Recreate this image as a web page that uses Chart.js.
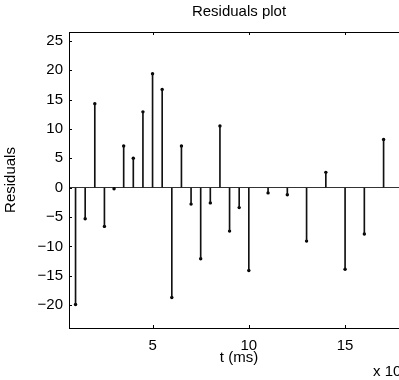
<!DOCTYPE html>
<html>
<head>
<meta charset="utf-8">
<title>Residuals plot</title>
<script src="https://cdn.jsdelivr.net/npm/chart.js@4.4.1/dist/chart.umd.min.js"></script>
<style>
  html, body { margin: 0; padding: 0; background: #fff; overflow: hidden; }
  canvas { display: block; }
</style>
</head>
<body>
<canvas id="residualsChart" width="420" height="380"></canvas>
<script>
// sample times (x 10^? ms) and the residual at each one
const tValues = [1, 1.5, 2, 2.5, 3, 3.5, 4, 4.5, 5, 5.5, 6, 6.5, 7, 7.5, 8, 8.5, 9, 9.5, 10,
                 11, 12, 13, 14, 15, 16, 17];
const residuals = [-19.9, -5.3, 14.3, -6.6, -0.2, 7.1, 5.0, 12.9, 19.4, 16.7, -18.7, 7.1, -2.8,
                   -12.1, -2.6, 10.5, -7.4, -3.4, -14.1, -0.9, -1.2, -9.1, 2.6, -13.9, -7.9, 8.2];
const xTicks = [5, 10, 15];
const yTicks = [-20, -15, -10, -5, 0, 5, 10, 15, 20, 25];
const xRange = [0.66, 18.32];
const yRange = [-23.9, 26.5];

const points = tValues.map((t, i) => ({ x: t, y: residuals[i] }));

Chart.defaults.font.family = '"Liberation Sans", Arial, Helvetica, sans-serif';
Chart.defaults.font.size = 15;
Chart.defaults.color = '#000';

// matlab look: box round the axes, ticks pointing in, exponent under the x axis
const matlabAxes = {
    id: 'matlabAxes',
    afterDraw(chart) {
        const ctx = chart.ctx;
        const area = chart.chartArea;
        const xs = chart.scales.x;
        const ys = chart.scales.y;
        ctx.save();
        ctx.strokeStyle = '#000';
        ctx.lineWidth = 1;
        ctx.beginPath();
        xTicks.forEach(v => {
            const px = Math.round(xs.getPixelForValue(v)) + 0.5;
            ctx.moveTo(px, area.bottom);
            ctx.lineTo(px, area.bottom - 3);
            ctx.moveTo(px, area.top);
            ctx.lineTo(px, area.top + 3);
        });
        yTicks.forEach(v => {
            const py = Math.round(ys.getPixelForValue(v)) + 0.5;
            ctx.moveTo(area.left, py);
            ctx.lineTo(area.left + 3, py);
            ctx.moveTo(area.right, py);
            ctx.lineTo(area.right - 3, py);
        });
        ctx.stroke();
        ctx.strokeRect(Math.round(area.left) + 0.5, Math.round(area.top) + 0.5,
                       Math.round(area.width), Math.round(area.height));
        ctx.fillStyle = '#000';
        ctx.font = '15px "Liberation Sans", Arial, sans-serif';
        ctx.textBaseline = 'middle';
        ctx.textAlign = 'left';
        ctx.fillText('x 10', area.right - 36, 372);
        ctx.restore();
    }
};

const ctx = document.getElementById('residualsChart').getContext('2d');
window.residualsChart = new Chart(ctx, {
    type: 'scatter',
    data: {
        datasets: [{
            type: 'bar',
            label: 'stems',
            data: points,
            backgroundColor: '#111',
            borderWidth: 0,
            barThickness: 1,
            grouped: false
        }, {
            type: 'scatter',
            label: 'Residuals',
            data: points,
            pointRadius: 1.7,
            pointBackgroundColor: '#000',
            pointBorderWidth: 0,
            showLine: false
        }]
    },
    plugins: [matlabAxes],
    options: {
        responsive: false,
        animation: false,
        layout: { padding: { left: 0, right: 11, top: 0, bottom: 0 } },
        plugins: {
            legend: { display: false },
            tooltip: { enabled: false },
            title: {
                display: true,
                text: 'Residuals plot',
                fullSize: false,
                color: '#000',
                font: { size: 15, weight: 'normal' },
                padding: { top: 3, bottom: 11 }
            }
        },
        scales: {
            x: {
                type: 'linear',
                min: xRange[0],
                max: xRange[1],
                offset: false,
                afterBuildTicks: scale => { scale.ticks = xTicks.map(v => ({ value: v })); },
                afterFit: scale => { scale.height = 52; },
                grid: { display: false, drawTicks: false },
                border: { display: false },
                ticks: { padding: 9, maxRotation: 0, color: '#000' },
                title: { display: true, text: 't (ms)', color: '#000', padding: { top: 0, bottom: 13 } }
            },
            y: {
                type: 'linear',
                min: yRange[0],
                max: yRange[1],
                afterBuildTicks: scale => { scale.ticks = yTicks.map(v => ({ value: v })); },
                afterFit: scale => { scale.width = 69; },
                grid: {
                    drawTicks: false,
                    color: c => (c.tick && c.tick.value === 0) ? '#333' : 'rgba(0,0,0,0)'
                },
                border: { display: false },
                ticks: {
                    padding: 6,
                    color: '#000',
                    callback: v => String(v).replace('-', '\u2212')
                },
                title: { display: true, text: 'Residuals', color: '#000', padding: { top: 2, bottom: 0 } }
            }
        }
    }
});
</script>
</body>
</html>
